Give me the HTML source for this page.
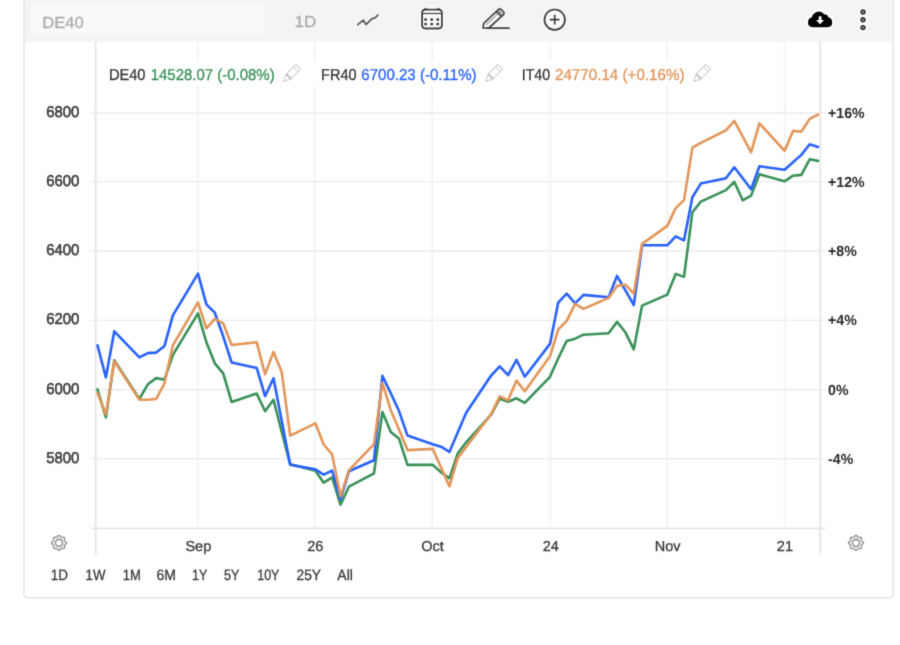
<!DOCTYPE html>
<html lang="en">
<head>
<meta charset="utf-8">
<title>DE40 chart</title>
<style>
html,body{margin:0;padding:0;background:#fff;}
body{width:900px;height:645px;position:relative;overflow:hidden;font-family:"Liberation Sans",Arial,sans-serif;}
.card{position:absolute;left:22.5px;top:-6px;width:871.4px;height:604.9px;border:2.3px solid #eaeaea;border-radius:5px;background:#fff;box-sizing:border-box;}
.toolbar{position:absolute;left:24.8px;top:0;width:866.6px;height:41.2px;background:#f4f4f4;box-shadow:0 0.8px 1.2px #f4f4f4;}
.search{position:absolute;left:30.6px;top:4px;width:232.4px;height:30.4px;background:#f9f9f9;}
svg{position:absolute;left:0;top:0;overflow:visible}
body{filter:url(#softblur);}
text{stroke-width:0.3px;text-rendering:geometricPrecision;}
.rlab text{stroke-width:0}
</style>
</head>
<body>
<svg width="0" height="0" style="position:absolute"><defs><filter id="softblur" x="0" y="0" width="100%" height="100%" color-interpolation-filters="sRGB"><feConvolveMatrix order="3" kernelMatrix="0.0169 0.0962 0.0169 0.0962 0.5476 0.0962 0.0169 0.0962 0.0169" edgeMode="duplicate" preserveAlpha="false"/></filter></defs></svg>
<div class="card"></div>
<div class="toolbar"></div>
<div class="search"></div>
<svg class="chart" width="900" height="645" viewBox="0 0 900 645" font-family="Liberation Sans, Arial, sans-serif">
<g stroke="#ecf2f6" stroke-width="1.4"><line x1="198" y1="41.5" x2="198" y2="528"/><line x1="315.0" y1="41.5" x2="315.0" y2="528"/><line x1="432.2" y1="41.5" x2="432.2" y2="528"/><line x1="550.4" y1="41.5" x2="550.4" y2="528"/><line x1="667.3" y1="41.5" x2="667.3" y2="528"/><line x1="784.6" y1="41.5" x2="784.6" y2="528"/></g>
<g stroke="#ebebeb" stroke-width="1.4"><line x1="90.5" y1="113" x2="825.5" y2="113"/><line x1="90.5" y1="181.6" x2="825.5" y2="181.6"/><line x1="90.5" y1="251" x2="825.5" y2="251"/><line x1="90.5" y1="320.4" x2="825.5" y2="320.4"/><line x1="90.5" y1="389.8" x2="825.5" y2="389.8"/><line x1="90.5" y1="458.6" x2="825.5" y2="458.6"/></g>
<g stroke="#e5e5e5" stroke-width="1.7"><line x1="95.7" y1="41.5" x2="95.7" y2="555"/><line x1="820.3" y1="41.5" x2="820.3" y2="555"/><line x1="91" y1="528.3" x2="825.5" y2="528.3"/></g>
<g fill="none" stroke-width="2.6" stroke-linejoin="round" stroke-linecap="round">
<path stroke="#3a9158" d="M97.5 389.3 L105.9 417.3 L114.3 360.3 L139.4 398.9 L147.8 384.3 L156.2 378.1 L164.5 379.7 L172.9 354.8 L198.0 313.3 L206.4 342.3 L214.8 363.3 L223.2 373.3 L231.6 401.9 L256.7 393.6 L265.1 411.3 L273.5 399.8 L281.8 432.3 L290.2 464.3 L315.4 470.7 L323.7 482.7 L332.1 477.3 L340.5 504.7 L348.9 486.7 L374.0 473.3 L382.4 412.1 L390.8 432.1 L399.1 438.8 L407.5 464.9 L432.7 464.9 L441.0 472.3 L449.4 478.3 L457.8 453.3 L466.2 442.3 L491.3 414.3 L499.7 398.7 L508.1 401.7 L516.5 398.3 L524.8 402.9 L550.0 376.8 L558.3 358.3 L566.7 340.9 L575.1 338.7 L583.5 334.7 L608.6 333.3 L617.0 321.9 L625.4 332.3 L633.8 349.3 L642.1 305.6 L667.3 294.6 L675.7 273.9 L684.0 276.9 L692.4 212.3 L700.8 201.6 L725.9 190.1 L734.3 181.8 L742.7 200.3 L751.1 195.6 L759.4 174.3 L784.6 181.3 L793.0 175.7 L801.3 174.9 L809.7 159.3 L818.1 160.9"/>
<path stroke="#2962ff" d="M97.5 345.3 L105.9 377.3 L114.3 331.3 L139.4 357.3 L147.8 353.1 L156.2 352.6 L164.5 345.9 L172.9 315.3 L198.0 273.7 L206.4 304.3 L214.8 312.7 L223.2 336.3 L231.6 362.5 L256.7 367.9 L265.1 396.1 L273.5 378.3 L281.8 421.3 L290.2 464.7 L315.4 469.3 L323.7 474.7 L332.1 470.7 L340.5 499.3 L348.9 471.3 L374.0 460.3 L382.4 375.9 L390.8 393.3 L399.1 411.3 L407.5 435.6 L432.7 444.3 L441.0 446.7 L449.4 451.9 L457.8 432.3 L466.2 412.7 L491.3 375.3 L499.7 366.3 L508.1 375.1 L516.5 359.8 L524.8 376.7 L550.0 343.9 L558.3 302.3 L566.7 293.7 L575.1 303.3 L583.5 294.9 L608.6 297.3 L617.0 275.9 L625.4 290.3 L633.8 305.0 L642.1 245.3 L667.3 245.3 L675.7 236.3 L684.0 240.3 L692.4 197.3 L700.8 183.6 L725.9 178.3 L734.3 167.3 L742.7 178.3 L751.1 189.3 L759.4 166.3 L784.6 169.7 L793.0 162.3 L801.3 154.9 L809.7 144.3 L818.1 146.9"/>
<path stroke="#e2965a" d="M97.5 393.3 L105.9 414.3 L114.3 361.3 L139.4 399.7 L147.8 399.7 L156.2 398.9 L164.5 383.3 L172.9 345.3 L198.0 302.3 L206.4 328.3 L214.8 318.9 L223.2 323.3 L231.6 345.0 L256.7 342.3 L265.1 374.3 L273.5 351.9 L281.8 372.3 L290.2 435.6 L315.4 423.3 L323.7 444.5 L332.1 454.3 L340.5 496.3 L348.9 470.3 L374.0 444.1 L382.4 382.7 L390.8 410.3 L399.1 429.7 L407.5 450.1 L432.7 448.9 L441.0 467.3 L449.4 486.3 L457.8 457.9 L466.2 446.9 L491.3 413.9 L499.7 396.3 L508.1 400.3 L516.5 380.6 L524.8 391.3 L550.0 356.3 L558.3 329.3 L566.7 320.9 L575.1 303.9 L583.5 308.9 L608.6 297.9 L617.0 285.9 L625.4 284.7 L633.8 293.6 L642.1 243.9 L667.3 225.9 L675.7 208.1 L684.0 200.1 L692.4 147.7 L700.8 142.9 L725.9 130.3 L734.3 120.9 L742.7 136.5 L751.1 152.3 L759.4 123.3 L784.6 150.9 L793.0 130.9 L801.3 131.7 L809.7 118.9 L818.1 114.7"/>
</g>
<g class="ylab">
<text x="46.16" y="117.0" font-size="15.6" fill="#404040" stroke="#404040" textLength="33.14" lengthAdjust="spacingAndGlyphs" style="stroke-width:0.6px">6800</text>
<text x="46.16" y="185.6" font-size="15.6" fill="#404040" stroke="#404040" textLength="33.14" lengthAdjust="spacingAndGlyphs" style="stroke-width:0.6px">6600</text>
<text x="46.16" y="255.0" font-size="15.6" fill="#404040" stroke="#404040" textLength="33.14" lengthAdjust="spacingAndGlyphs" style="stroke-width:0.6px">6400</text>
<text x="46.16" y="324.4" font-size="15.6" fill="#404040" stroke="#404040" textLength="33.14" lengthAdjust="spacingAndGlyphs" style="stroke-width:0.6px">6200</text>
<text x="46.16" y="393.8" font-size="15.6" fill="#404040" stroke="#404040" textLength="33.14" lengthAdjust="spacingAndGlyphs" style="stroke-width:0.6px">6000</text>
<text x="46.31" y="462.6" font-size="15.6" fill="#404040" stroke="#404040" textLength="32.98" lengthAdjust="spacingAndGlyphs" style="stroke-width:0.6px">5800</text>
</g><g class="rlab">
<text x="828.09" y="118.0" font-size="14.6" fill="#2a2a2a" stroke="#2a2a2a" font-weight="bold" textLength="36.56" lengthAdjust="spacingAndGlyphs">+16%</text>
<text x="828.09" y="186.6" font-size="14.6" fill="#2a2a2a" stroke="#2a2a2a" font-weight="bold" textLength="36.56" lengthAdjust="spacingAndGlyphs">+12%</text>
<text x="828.09" y="256.0" font-size="14.6" fill="#2a2a2a" stroke="#2a2a2a" font-weight="bold" textLength="28.70" lengthAdjust="spacingAndGlyphs">+8%</text>
<text x="828.09" y="325.4" font-size="14.6" fill="#2a2a2a" stroke="#2a2a2a" font-weight="bold" textLength="28.70" lengthAdjust="spacingAndGlyphs">+4%</text>
<text x="828.09" y="394.8" font-size="14.6" fill="#2a2a2a" stroke="#2a2a2a" font-weight="bold" textLength="20.44" lengthAdjust="spacingAndGlyphs">0%</text>
<text x="828.09" y="463.6" font-size="14.6" fill="#2a2a2a" stroke="#2a2a2a" font-weight="bold" textLength="25.15" lengthAdjust="spacingAndGlyphs">-4%</text>
</g><g class="xlab">
<text x="198.3" y="551.2" font-size="14.5" fill="#3a3a3a" stroke="#3a3a3a" text-anchor="middle">Sep</text>
<text x="315.3" y="551.2" font-size="14.5" fill="#3a3a3a" stroke="#3a3a3a" text-anchor="middle">26</text>
<text x="432.5" y="551.2" font-size="14.5" fill="#3a3a3a" stroke="#3a3a3a" text-anchor="middle">Oct</text>
<text x="550.6999999999999" y="551.2" font-size="14.5" fill="#3a3a3a" stroke="#3a3a3a" text-anchor="middle">24</text>
<text x="667.5999999999999" y="551.2" font-size="14.5" fill="#3a3a3a" stroke="#3a3a3a" text-anchor="middle">Nov</text>
<text x="784.9" y="551.2" font-size="14.5" fill="#3a3a3a" stroke="#3a3a3a" text-anchor="middle">21</text>
</g>
<rect x="102" y="61.5" width="614" height="24" fill="#fff"/>
<text x="108.89" y="80.2" font-size="15.8" fill="#333" stroke="#333" textLength="36.58" lengthAdjust="spacingAndGlyphs">DE40</text>
<text x="150.68" y="80.2" font-size="15.8" fill="#3a9158" stroke="#3a9158" textLength="123.97" lengthAdjust="spacingAndGlyphs">14528.07 (-0.08%)</text>
<text x="321.10" y="80.2" font-size="15.8" fill="#333" stroke="#333" textLength="35.45" lengthAdjust="spacingAndGlyphs">FR40</text>
<text x="361.25" y="80.2" font-size="15.8" fill="#2962ff" stroke="#2962ff" textLength="115.41" lengthAdjust="spacingAndGlyphs">6700.23 (-0.11%)</text>
<text x="521.69" y="80.2" font-size="15.8" fill="#333" stroke="#333" textLength="28.36" lengthAdjust="spacingAndGlyphs">IT40</text>
<text x="554.94" y="80.2" font-size="15.8" fill="#e2965a" stroke="#e2965a" textLength="129.60" lengthAdjust="spacingAndGlyphs">24770.14 (+0.16%)</text>
<text x="50.79" y="579.9" font-size="15.0" fill="#3a3a3a" stroke="#3a3a3a" textLength="17.27" lengthAdjust="spacingAndGlyphs">1D</text>
<text x="85.61" y="579.9" font-size="15.0" fill="#3a3a3a" stroke="#3a3a3a" textLength="19.86" lengthAdjust="spacingAndGlyphs">1W</text>
<text x="122.82" y="579.9" font-size="15.0" fill="#3a3a3a" stroke="#3a3a3a" textLength="18.07" lengthAdjust="spacingAndGlyphs">1M</text>
<text x="156.50" y="579.9" font-size="15.0" fill="#3a3a3a" stroke="#3a3a3a" textLength="19.48" lengthAdjust="spacingAndGlyphs">6M</text>
<text x="191.96" y="579.9" font-size="15.0" fill="#3a3a3a" stroke="#3a3a3a" textLength="15.33" lengthAdjust="spacingAndGlyphs">1Y</text>
<text x="223.90" y="579.9" font-size="15.0" fill="#3a3a3a" stroke="#3a3a3a" textLength="15.39" lengthAdjust="spacingAndGlyphs">5Y</text>
<text x="257.16" y="579.9" font-size="15.0" fill="#3a3a3a" stroke="#3a3a3a" textLength="22.31" lengthAdjust="spacingAndGlyphs">10Y</text>
<text x="296.51" y="579.9" font-size="15.0" fill="#3a3a3a" stroke="#3a3a3a" textLength="24.59" lengthAdjust="spacingAndGlyphs">25Y</text>
<text x="337.36" y="579.9" font-size="15.0" fill="#3a3a3a" stroke="#3a3a3a" textLength="15.56" lengthAdjust="spacingAndGlyphs">All</text>
<text x="42.23" y="27.6" font-size="16.0" fill="#aaa" stroke="#aaa" textLength="41.41" lengthAdjust="spacingAndGlyphs" style="stroke-width:0.25px">DE40</text>
<text x="294.53" y="26.7" font-size="16.0" fill="#aaa" stroke="#aaa" textLength="21.69" lengthAdjust="spacingAndGlyphs" style="stroke-width:0.25px">1D</text>
</svg>
<svg class="ico" width="900" height="645" viewBox="0 0 900 645">
<!-- line icon -->
<path d="M357.8 24.6 L363.3 20.1 L366 24.6 L372 18.7 L374.6 18.2 L378 15" fill="none" stroke="#555" stroke-width="1.7" stroke-linejoin="round" stroke-linecap="round"/>
<!-- calendar -->
<g>
<rect x="419.6" y="6.6" width="24.6" height="24.6" rx="5.5" fill="#fbfbfb"/>
<rect x="422.1" y="9.6" width="19.8" height="18.9" rx="3.2" fill="none" stroke="#444" stroke-width="1.8"/>
<line x1="422" y1="13.5" x2="442" y2="13.5" stroke="#444" stroke-width="1.2"/>
<path d="M423.9 9.6 L425.6 7.9 L427.3 9.6 Z M436.7 9.6 L438.4 7.9 L440.1 9.6 Z" fill="#444" stroke="#444" stroke-width="0.8" stroke-linejoin="round"/>
<g fill="#333"><circle cx="425.6" cy="19.6" r="1.4"/><circle cx="431.7" cy="19.6" r="1.4"/><circle cx="437.8" cy="19.6" r="1.4"/><circle cx="425.6" cy="24.1" r="1.4"/><circle cx="431.7" cy="24.1" r="1.4"/><circle cx="437.8" cy="24.1" r="1.4"/></g>
</g>
<!-- pencil -->
<g fill="none" stroke="#444" stroke-width="1.7" stroke-linejoin="round" stroke-linecap="round">
<path d="M483 28 L483.8 23.4 L498.6 9.4 Q499.8 8.4 501 9.4 L503.6 12 Q504.6 13.2 503.6 14.4 L488.8 28 Z" fill="#fafafa"/>
<path d="M496.6 11.6 L501.4 16.4"/><path d="M498.2 10.1 L503 14.9" stroke-width="1"/>
<path d="M487 28.2 L509 28.2"/>
<path d="M486.5 24.6 L500 11.6" stroke-width="0.8"/>
</g>
<!-- plus circle -->
<g fill="none" stroke="#3c3c3c" stroke-width="1.7"><circle cx="554.7" cy="19.7" r="10.2" fill="#fbfbfb"/><path d="M549.8 19.7 H559.6 M554.7 14.8 V24.6" stroke-width="1.7"/></g>
<!-- cloud -->
<g>
<path d="M813.6 27.2 Q808 27.2 808 22.4 Q808 18.4 811.8 17.6 Q812.4 13.4 816.6 11.9 Q821.4 10.6 824.4 14.4 Q827.4 14 828.4 17.2 Q832.2 18 832.2 22.4 Q832.2 27.2 826.6 27.2 Z" fill="#000" stroke="#fff" stroke-width="4.6" stroke-linejoin="round" style="paint-order:stroke"/>
<path d="M818.7 16.2 H821.5 V19.9 H824.1 L820.1 24.2 L816.1 19.9 H818.7 Z" fill="#fff"/>
</g>
<!-- kebab -->
<g fill="#fff"><circle cx="863" cy="12" r="4.6"/><circle cx="863" cy="19.8" r="4.6"/><circle cx="863" cy="27.6" r="4.6"/></g>
<g fill="#999" stroke="#333" stroke-width="1.6"><circle cx="863" cy="12" r="1.9"/><circle cx="863" cy="19.8" r="1.9"/><circle cx="863" cy="27.6" r="1.9"/></g>
<!-- legend pencils -->
<g transform="translate(283.2,81.9) rotate(-45)" fill="none" stroke="#d6d6d6" stroke-width="1.3" stroke-linejoin="round"><path d="M0.6 0 L7.7 -3.4 L21.3 -3.4 L21.3 3.4 L7.7 3.4 Z"/><path d="M7.7 -3.4 V3.4" stroke="#bdbdbd" stroke-width="1.9"/><path d="M17.9 -3.4 V3.4"/></g>
<g transform="translate(485.2,81.9) rotate(-45)" fill="none" stroke="#d6d6d6" stroke-width="1.3" stroke-linejoin="round"><path d="M0.6 0 L7.7 -3.4 L21.3 -3.4 L21.3 3.4 L7.7 3.4 Z"/><path d="M7.7 -3.4 V3.4" stroke="#bdbdbd" stroke-width="1.9"/><path d="M17.9 -3.4 V3.4"/></g>
<g transform="translate(693.2,81.9) rotate(-45)" fill="none" stroke="#d6d6d6" stroke-width="1.3" stroke-linejoin="round"><path d="M0.6 0 L7.7 -3.4 L21.3 -3.4 L21.3 3.4 L7.7 3.4 Z"/><path d="M7.7 -3.4 V3.4" stroke="#bdbdbd" stroke-width="1.9"/><path d="M17.9 -3.4 V3.4"/></g>
<!-- gears -->
<path d="M66.45 542.90 L66.34 543.38 L66.04 543.83 L65.62 544.22 L65.18 544.56 L64.82 544.87 L64.59 545.22 L64.51 545.62 L64.54 546.10 L64.61 546.65 L64.63 547.22 L64.53 547.75 L64.27 548.17 L63.85 548.43 L63.32 548.53 L62.75 548.51 L62.20 548.44 L61.72 548.41 L61.32 548.49 L60.97 548.72 L60.66 549.08 L60.32 549.52 L59.93 549.94 L59.48 550.24 L59.00 550.35 L58.52 550.24 L58.07 549.94 L57.68 549.52 L57.34 549.08 L57.03 548.72 L56.68 548.49 L56.28 548.41 L55.80 548.44 L55.25 548.51 L54.68 548.53 L54.15 548.43 L53.73 548.17 L53.47 547.75 L53.37 547.22 L53.39 546.65 L53.46 546.10 L53.49 545.62 L53.41 545.22 L53.18 544.87 L52.82 544.56 L52.38 544.22 L51.96 543.83 L51.66 543.38 L51.55 542.90 L51.66 542.42 L51.96 541.97 L52.38 541.58 L52.82 541.24 L53.18 540.93 L53.41 540.58 L53.49 540.18 L53.46 539.70 L53.39 539.15 L53.37 538.58 L53.47 538.05 L53.73 537.63 L54.15 537.37 L54.68 537.27 L55.25 537.29 L55.80 537.36 L56.28 537.39 L56.68 537.31 L57.03 537.08 L57.34 536.72 L57.68 536.28 L58.07 535.86 L58.52 535.56 L59.00 535.45 L59.48 535.56 L59.93 535.86 L60.32 536.28 L60.66 536.72 L60.97 537.08 L61.32 537.31 L61.72 537.39 L62.20 537.36 L62.75 537.29 L63.32 537.27 L63.85 537.37 L64.27 537.63 L64.53 538.05 L64.63 538.58 L64.61 539.15 L64.54 539.70 L64.51 540.18 L64.59 540.58 L64.82 540.93 L65.18 541.24 L65.62 541.58 L66.04 541.97 L66.34 542.42Z" fill="none" stroke="#959595" stroke-width="1.4"/><circle cx="59" cy="542.9" r="3.5" fill="none" stroke="#959595" stroke-width="1.6"/><circle cx="59" cy="542.9" r="5.3" fill="none" stroke="#d9d9d9" stroke-width="0.9"/>
<path d="M863.45 542.90 L863.34 543.38 L863.04 543.83 L862.62 544.22 L862.18 544.56 L861.82 544.87 L861.59 545.22 L861.51 545.62 L861.54 546.10 L861.61 546.65 L861.63 547.22 L861.53 547.75 L861.27 548.17 L860.85 548.43 L860.32 548.53 L859.75 548.51 L859.20 548.44 L858.72 548.41 L858.32 548.49 L857.97 548.72 L857.66 549.08 L857.32 549.52 L856.93 549.94 L856.48 550.24 L856.00 550.35 L855.52 550.24 L855.07 549.94 L854.68 549.52 L854.34 549.08 L854.03 548.72 L853.68 548.49 L853.28 548.41 L852.80 548.44 L852.25 548.51 L851.68 548.53 L851.15 548.43 L850.73 548.17 L850.47 547.75 L850.37 547.22 L850.39 546.65 L850.46 546.10 L850.49 545.62 L850.41 545.22 L850.18 544.87 L849.82 544.56 L849.38 544.22 L848.96 543.83 L848.66 543.38 L848.55 542.90 L848.66 542.42 L848.96 541.97 L849.38 541.58 L849.82 541.24 L850.18 540.93 L850.41 540.58 L850.49 540.18 L850.46 539.70 L850.39 539.15 L850.37 538.58 L850.47 538.05 L850.73 537.63 L851.15 537.37 L851.68 537.27 L852.25 537.29 L852.80 537.36 L853.28 537.39 L853.68 537.31 L854.03 537.08 L854.34 536.72 L854.68 536.28 L855.07 535.86 L855.52 535.56 L856.00 535.45 L856.48 535.56 L856.93 535.86 L857.32 536.28 L857.66 536.72 L857.97 537.08 L858.32 537.31 L858.72 537.39 L859.20 537.36 L859.75 537.29 L860.32 537.27 L860.85 537.37 L861.27 537.63 L861.53 538.05 L861.63 538.58 L861.61 539.15 L861.54 539.70 L861.51 540.18 L861.59 540.58 L861.82 540.93 L862.18 541.24 L862.62 541.58 L863.04 541.97 L863.34 542.42Z" fill="none" stroke="#959595" stroke-width="1.4"/><circle cx="856" cy="542.9" r="3.5" fill="none" stroke="#959595" stroke-width="1.6"/><circle cx="856" cy="542.9" r="5.3" fill="none" stroke="#d9d9d9" stroke-width="0.9"/>
</svg>
</body>
</html>
